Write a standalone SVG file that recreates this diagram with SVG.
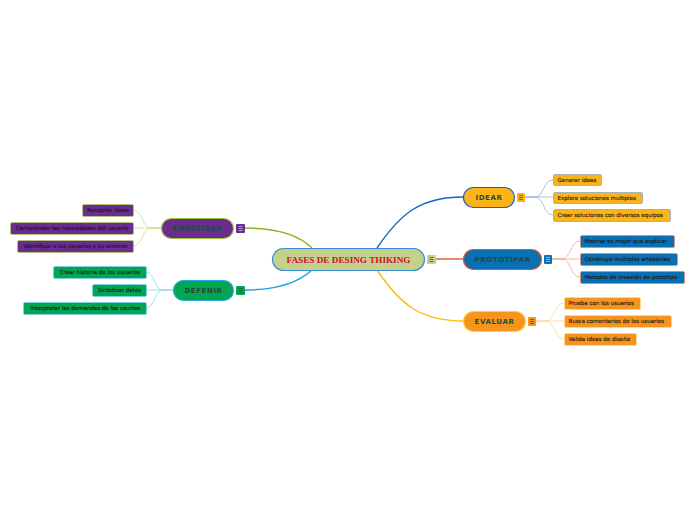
<svg xmlns="http://www.w3.org/2000/svg" width="696" height="520" viewBox="0 0 696 520">
<style>
.main{font-family:"DejaVu Sans",Verdana,sans-serif;font-size:7px;font-weight:bold;letter-spacing:0.6px;fill:#1d4d3a;text-anchor:middle}
.ch{font-family:"DejaVu Sans",Verdana,sans-serif;font-size:5.5px;fill:#1a1a1a;stroke:#1a1a1a;stroke-width:0.12px}
.lbl{text-anchor:middle}
.conn{fill:none}
.ic line{stroke-width:0.8}
</style>
<rect width="696" height="520" fill="#ffffff"/>
<g id="connectors" class="conn">
  <path d="M245,228 C278,228 300,236 312,248" stroke="#8db51f" stroke-width="1.4"/>
  <path d="M245,290 C278,290 300,281 312,270" stroke="#1e9fe3" stroke-width="1.4"/>
  <path d="M377,248 C400,214 420,197 463,197" stroke="#1762c8" stroke-width="1.4"/>
  <path d="M436,259 L463,259" stroke="#e2542b" stroke-width="1.4"/>
  <path d="M377,270 C400,304 420,321 463,321" stroke="#fdb913" stroke-width="1.4"/>
  <g stroke="#c6dc8a" stroke-width="0.8">
    <path d="M161,228 L151,228 C142,228 143,210 133,210"/>
    <path d="M161,228 L133,228"/>
    <path d="M161,228 L151,228 C142,228 143,246 133,246"/>
  </g>
  <g stroke="#8fd3f5" stroke-width="0.8">
    <path d="M173,290 L163,290 C154,290 155,272 146,272"/>
    <path d="M173,290 L146,290"/>
    <path d="M173,290 L163,290 C154,290 155,308 146,308"/>
  </g>
  <g stroke="#8fb4e6" stroke-width="0.8">
    <path d="M525,197 L535,197 C544,197 543,180 553,180"/>
    <path d="M525,197 L553,197"/>
    <path d="M525,197 L535,197 C544,197 543,215 553,215"/>
  </g>
  <g stroke="#f2a78a" stroke-width="0.8">
    <path d="M552,259 L562,259 C571,259 570,241 580,241"/>
    <path d="M552,259 L580,259"/>
    <path d="M552,259 L562,259 C571,259 570,277 580,277"/>
  </g>
  <g stroke="#fcd98e" stroke-width="0.8">
    <path d="M536,321 L546,321 C555,321 554,303 564,303"/>
    <path d="M536,321 L564,321"/>
    <path d="M536,321 L546,321 C555,321 554,339 564,339"/>
  </g>
</g>

<g id="center">
  <rect x="272.5" y="248.5" width="152" height="22" rx="11" fill="#c4d08c" stroke="#3a8fd2" stroke-width="1.2"/>
  <text x="348.5" y="262.5" font-family="'Liberation Serif','Times New Roman',serif" font-size="9.2" font-weight="bold" fill="#c8102e" text-anchor="middle">FASES DE DESING THIKING</text>
  <g class="ic"><rect x="427" y="255" width="9" height="9" rx="1" fill="#c4d08c"/><line x1="429.5" y1="257.5" x2="433.5" y2="257.5" stroke="#8a3a3a"/><line x1="429.5" y1="259.5" x2="433.5" y2="259.5" stroke="#8a3a3a"/><line x1="429.5" y1="261.5" x2="433.5" y2="261.5" stroke="#8a3a3a"/></g>
</g>

<g id="empatizar">
  <rect x="161.5" y="218.5" width="72" height="20" rx="10" fill="#6a2c8f" stroke="#a3c73c" stroke-width="1.2"/>
  <text class="main" x="197.5" y="231">EMPATIZAR</text>
  <g class="ic"><rect x="236" y="224" width="9" height="9" rx="1" fill="#6a2c8f"/><line x1="238.5" y1="226.5" x2="242.5" y2="226.5" stroke="#c9b3e0"/><line x1="238.5" y1="228.5" x2="242.5" y2="228.5" stroke="#c9b3e0"/><line x1="238.5" y1="230.5" x2="242.5" y2="230.5" stroke="#c9b3e0"/></g>
</g>
<g id="empatizar-1"><rect x="82.5" y="204.5" width="51" height="12" rx="1.5" fill="#6a2c8f" stroke="#b3cf6a" stroke-width="0.8"/><text class="ch lbl" x="108" y="212.4">Recopilar ideas</text></g>
<g id="empatizar-2"><rect x="10.5" y="222.5" width="123" height="12" rx="1.5" fill="#6a2c8f" stroke="#b3cf6a" stroke-width="0.8"/><text class="ch lbl" x="72" y="230.4">Comprender las necesidades del usuario</text></g>
<g id="empatizar-3"><rect x="17.5" y="240.5" width="116" height="12" rx="1.5" fill="#6a2c8f" stroke="#b3cf6a" stroke-width="0.8"/><text class="ch lbl" x="75.5" y="248.4">Identificar a los usuarios y su entorno</text></g>

<g id="defenir">
  <rect x="173.5" y="280.5" width="60" height="20" rx="10" fill="#00a651" stroke="#2aaae2" stroke-width="1.2"/>
  <text class="main" x="203.5" y="293">DEFENIR</text>
  <g class="ic"><rect x="236" y="286" width="9" height="9" rx="1" fill="#00a651"/><line x1="238.5" y1="288.5" x2="242.5" y2="288.5" stroke="#0a5a30"/><line x1="238.5" y1="290.5" x2="242.5" y2="290.5" stroke="#0a5a30"/><line x1="238.5" y1="292.5" x2="242.5" y2="292.5" stroke="#0a5a30"/></g>
</g>
<g id="defenir-1"><rect x="53.5" y="266.5" width="93" height="12" rx="1.5" fill="#00a651" stroke="#7fd0f0" stroke-width="0.8"/><text class="ch lbl" x="100" y="274.4">Crear historia de los usuarios</text></g>
<g id="defenir-2"><rect x="92.5" y="284.5" width="54" height="12" rx="1.5" fill="#00a651" stroke="#7fd0f0" stroke-width="0.8"/><text class="ch lbl" x="119.5" y="292.4">Sintetizar datos</text></g>
<g id="defenir-3"><rect x="23.5" y="302.5" width="123" height="12" rx="1.5" fill="#00a651" stroke="#7fd0f0" stroke-width="0.8"/><text class="ch lbl" x="85" y="310.4">Interpretar las demandas de los usurios</text></g>

<g id="idear">
  <rect x="463.5" y="187.5" width="51" height="20" rx="10" fill="#fbb418" stroke="#1762c8" stroke-width="1.2"/>
  <text class="main" x="489" y="200">IDEAR</text>
  <g class="ic"><rect x="517" y="193" width="8" height="9" rx="1" fill="#fbb418"/><line x1="519" y1="195.5" x2="523" y2="195.5" stroke="#7a4a00"/><line x1="519" y1="197.5" x2="523" y2="197.5" stroke="#7a4a00"/><line x1="519" y1="199.5" x2="523" y2="199.5" stroke="#7a4a00"/></g>
</g>
<g id="idear-1"><rect x="553.5" y="174.5" width="48" height="11" rx="1.5" fill="#fbb418" stroke="#8fa8c8" stroke-width="0.8"/><text class="ch" x="557.5" y="181.9">Generar ideas</text></g>
<g id="idear-2"><rect x="553.5" y="192.5" width="89" height="11" rx="1.5" fill="#fbb418" stroke="#8fa8c8" stroke-width="0.8"/><text class="ch" x="557.5" y="199.9">Explore soluciones multiples</text></g>
<g id="idear-3"><rect x="553.5" y="209.5" width="117" height="12" rx="1.5" fill="#fbb418" stroke="#8fa8c8" stroke-width="0.8"/><text class="ch" x="557.5" y="217.4">Crear soluciones con diversos equipos</text></g>

<g id="prototipar">
  <rect x="463.5" y="249.5" width="78" height="20" rx="10" fill="#0b70b3" stroke="#e2542b" stroke-width="1.2"/>
  <text class="main" x="502.5" y="262">PROTOTIPAR</text>
  <g class="ic"><rect x="544" y="255" width="8" height="9" rx="1" fill="#0b70b3"/><line x1="546" y1="257.5" x2="550" y2="257.5" stroke="#9cc8ea"/><line x1="546" y1="259.5" x2="550" y2="259.5" stroke="#9cc8ea"/><line x1="546" y1="261.5" x2="550" y2="261.5" stroke="#9cc8ea"/></g>
</g>
<g id="prototipar-1"><rect x="580.5" y="235.5" width="94" height="12" rx="1.5" fill="#0b70b3" stroke="#e8876a" stroke-width="0.8"/><text class="ch" x="584.5" y="243.4">Mostrar es mejor que explicar</text></g>
<g id="prototipar-2"><rect x="580.5" y="253.5" width="97" height="12" rx="1.5" fill="#0b70b3" stroke="#e8876a" stroke-width="0.8"/><text class="ch" x="584.5" y="261.4">Construye multiples artesanias</text></g>
<g id="prototipar-3"><rect x="580.5" y="271.5" width="104" height="12" rx="1.5" fill="#0b70b3" stroke="#e8876a" stroke-width="0.8"/><text class="ch" x="584.5" y="279.4">Metodos de creación de prototipo</text></g>

<g id="evaluar">
  <rect x="463.5" y="311.5" width="62" height="20" rx="10" fill="#f7941d" stroke="#fdd23a" stroke-width="1.2"/>
  <text class="main" x="494.5" y="324">EVALUAR</text>
  <g class="ic"><rect x="528" y="317" width="8" height="9" rx="1" fill="#f7941d"/><line x1="530" y1="319.5" x2="534" y2="319.5" stroke="#7a3a00"/><line x1="530" y1="321.5" x2="534" y2="321.5" stroke="#7a3a00"/><line x1="530" y1="323.5" x2="534" y2="323.5" stroke="#7a3a00"/></g>
</g>
<g id="evaluar-1"><rect x="564.5" y="297.5" width="76" height="12" rx="1.5" fill="#f7941d" stroke="#fcd98e" stroke-width="0.8"/><text class="ch" x="568.5" y="305.4">Prueba con los usuarios</text></g>
<g id="evaluar-2"><rect x="564.5" y="315.5" width="107" height="12" rx="1.5" fill="#f7941d" stroke="#fcd98e" stroke-width="0.8"/><text class="ch" x="568.5" y="323.4">Busca comentarios de los usuarios</text></g>
<g id="evaluar-3"><rect x="564.5" y="333.5" width="72" height="12" rx="1.5" fill="#f7941d" stroke="#fcd98e" stroke-width="0.8"/><text class="ch" x="568.5" y="341.4">Valida ideas de diseño</text></g>
</svg>
